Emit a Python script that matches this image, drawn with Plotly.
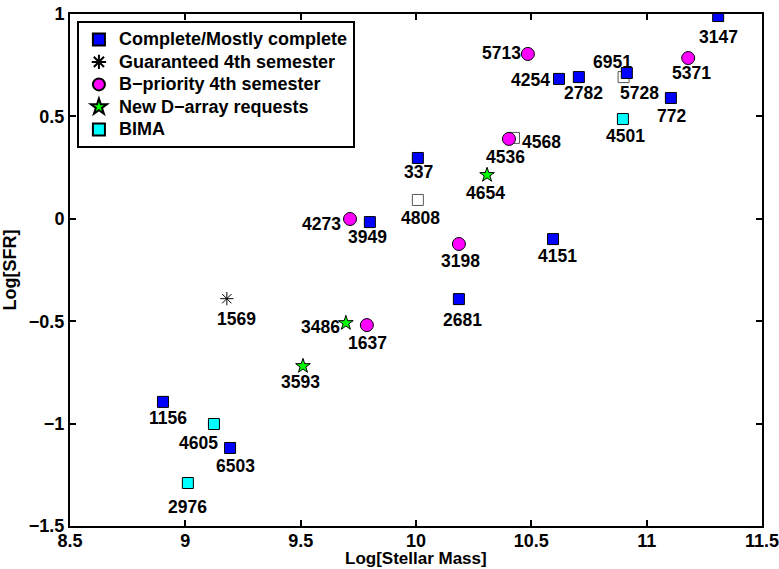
import plotly.graph_objects as go

# ---- data ----
complete_names = ["3147", "4254", "2782", "6951", "772", "337", "3949", "4151", "2681", "1156", "6503"]
complete_mass = [11.31, 10.62, 10.706, 10.914, 11.105, 10.008, 9.80, 10.594, 10.186, 8.903, 9.194]
complete_sfr = [0.99, 0.683, 0.692, 0.712, 0.59, 0.297, -0.016, -0.099, -0.392, -0.894, -1.119]

guar_names = ["1569"]
guar_mass = [9.18]
guar_sfr = [-0.39]

bpri_names = ["5713", "5371", "4536", "4273", "3198", "1637"]
bpri_mass = [10.485, 11.18, 10.403, 9.714, 10.186, 9.787]
bpri_sfr = [0.805, 0.785, 0.39, -0.001, -0.123, -0.519]

newd_names = ["4654", "3486", "3593"]
newd_mass = [10.308, 9.696, 9.51]
newd_sfr = [0.214, -0.509, -0.719]

bima_names = ["4501", "4605", "2976"]
bima_mass = [10.897, 9.124, 9.011]
bima_sfr = [0.487, -1.002, -1.29]

open_names = ["5728", "4568", "4808"]
open_mass = [10.90, 10.425, 10.008]
open_sfr = [0.692, 0.395, 0.092]

legend_names = ["Complete/Mostly complete", "Guaranteed 4th semester",
                "B\u2212priority 4th semester", "New D\u2212array requests", "BIMA"]

x_title = "Log[Stellar Mass]"
y_title = "Log[SFR]"
x_ticks = [8.5, 9, 9.5, 10, 10.5, 11, 11.5]
y_ticks = [-1.5, -1, -0.5, 0, 0.5, 1]

# ---- label placement (pixel offsets: dx, dy_down, xanchor) ----
label_style = {
    "3147": (0, 21, "center"), "5713": (-6, -1, "right"), "5371": (3, 15, "center"),
    "4254": (-8, 1, "right"), "2782": (5, 16, "center"), "6951": (-14, -11, "center"),
    "5728": (16, 16, "center"), "772": (1, 18, "center"), "4501": (3, 17, "center"),
    "4568": (7, 4, "left"), "4536": (-3, 18, "center"), "4654": (-2, 18, "center"),
    "337": (1, 14, "center"), "4808": (3, 18, "center"), "4273": (-8, 5, "right"),
    "3949": (-2, 15, "center"), "3198": (2, 17, "center"), "4151": (4, 17, "center"),
    "2681": (4, 21, "center"), "1569": (10, 20, "center"), "3486": (-5, 4, "right"),
    "1637": (1, 18, "center"), "3593": (-2, 16, "center"), "1156": (5, 16, "center"),
    "4605": (-15, 19, "center"), "6503": (5, 18, "center"), "2976": (0, 24, "center"),
}

FONT = "Liberation Sans, Arial, Helvetica, sans-serif"


def leg(name):
    return '<span style="font-size:18px">' + name + '</span>'


fig = go.Figure()

fig.add_trace(go.Scatter(x=open_mass, y=open_sfr, mode="markers", showlegend=False,
                         marker=dict(symbol="square", size=11, color="white",
                                     line=dict(color="#555555", width=1))))
fig.add_trace(go.Scatter(x=complete_mass, y=complete_sfr, mode="markers",
                         name=leg(legend_names[0]),
                         marker=dict(symbol="square", size=11, color="#0000ff",
                                     line=dict(color="black", width=1))))
fig.add_trace(go.Scatter(x=guar_mass, y=guar_sfr, mode="markers",
                         name=leg(legend_names[1]),
                         marker=dict(symbol="asterisk-open", size=11, color="black",
                                     line=dict(color="black", width=1))))
fig.add_trace(go.Scatter(x=bpri_mass, y=bpri_sfr, mode="markers",
                         name=leg(legend_names[2]),
                         marker=dict(symbol="circle", size=13, color="#ff00ff",
                                     line=dict(color="black", width=1))))
fig.add_trace(go.Scatter(x=newd_mass, y=newd_sfr, mode="markers",
                         name=leg(legend_names[3]),
                         marker=dict(symbol="star", size=11, color="#00ff00",
                                     line=dict(color="black", width=1))))
fig.add_trace(go.Scatter(x=bima_mass, y=bima_sfr, mode="markers",
                         name=leg(legend_names[4]),
                         marker=dict(symbol="square", size=11, color="#00ffff",
                                     line=dict(color="black", width=1))))

annotations = []
for names, xs, ys in [(complete_names, complete_mass, complete_sfr),
                      (guar_names, guar_mass, guar_sfr),
                      (bpri_names, bpri_mass, bpri_sfr),
                      (newd_names, newd_mass, newd_sfr),
                      (bima_names, bima_mass, bima_sfr),
                      (open_names, open_mass, open_sfr)]:
    for n, xv, yv in zip(names, xs, ys):
        dx, dy, anc = label_style[n]
        annotations.append(dict(x=xv, y=yv, xref="x", yref="y", text=n, showarrow=False,
                                xanchor=anc, yanchor="middle", xshift=dx, yshift=-dy,
                                borderpad=0,
                                font=dict(family=FONT, size=17.5, color="black", weight="bold")))

# x-axis title placed at the very bottom of the figure (below tick labels)
annotations.append(dict(x=0.5, y=0, xref="paper", yref="paper", text=x_title,
                        showarrow=False, xanchor="center", yanchor="bottom",
                        yshift=-43, borderpad=0,
                        font=dict(family=FONT, size=17, color="black", weight="bold")))

fig.update_layout(
    width=779, height=569,
    margin=dict(l=70, r=17, t=14, b=43),
    plot_bgcolor="white", paper_bgcolor="white",
    font=dict(family=FONT, size=18, color="black", weight="bold"),
    annotations=annotations,
    legend=dict(x=0.010, y=0.986, xanchor="left", yanchor="top",
                bgcolor="white", bordercolor="black", borderwidth=2,
                font=dict(family=FONT, size=15, color="black", weight="bold"),
                tracegroupgap=0, itemsizing="constant"),
    xaxis=dict(range=[8.5, 11.5], tickvals=x_ticks, ticktext=[f"{v:g}" for v in x_ticks],
               showgrid=False, zeroline=False, showline=True, linecolor="black", linewidth=2,
               mirror="allticks", ticks="inside", ticklen=6, tickwidth=2, tickcolor="black",
               ticklabelstandoff=-3, ticklabeloverflow="allow", automargin=False,
               tickfont=dict(family=FONT, size=18, weight="bold")),
    yaxis=dict(range=[-1.5, 1], tickvals=y_ticks,
               ticktext=[f"{v:g}".replace("-", "\u2212") for v in y_ticks],
               showgrid=False, zeroline=False, showline=True, linecolor="black", linewidth=2,
               mirror="allticks", ticks="inside", ticklen=6, tickwidth=2, tickcolor="black",
               ticklabeloverflow="allow", automargin=False,
               title=dict(text=y_title, standoff=8,
                          font=dict(family=FONT, size=18, weight="bold")),
               tickfont=dict(family=FONT, size=18, weight="bold")),
)

fig.write_html("out.html")
